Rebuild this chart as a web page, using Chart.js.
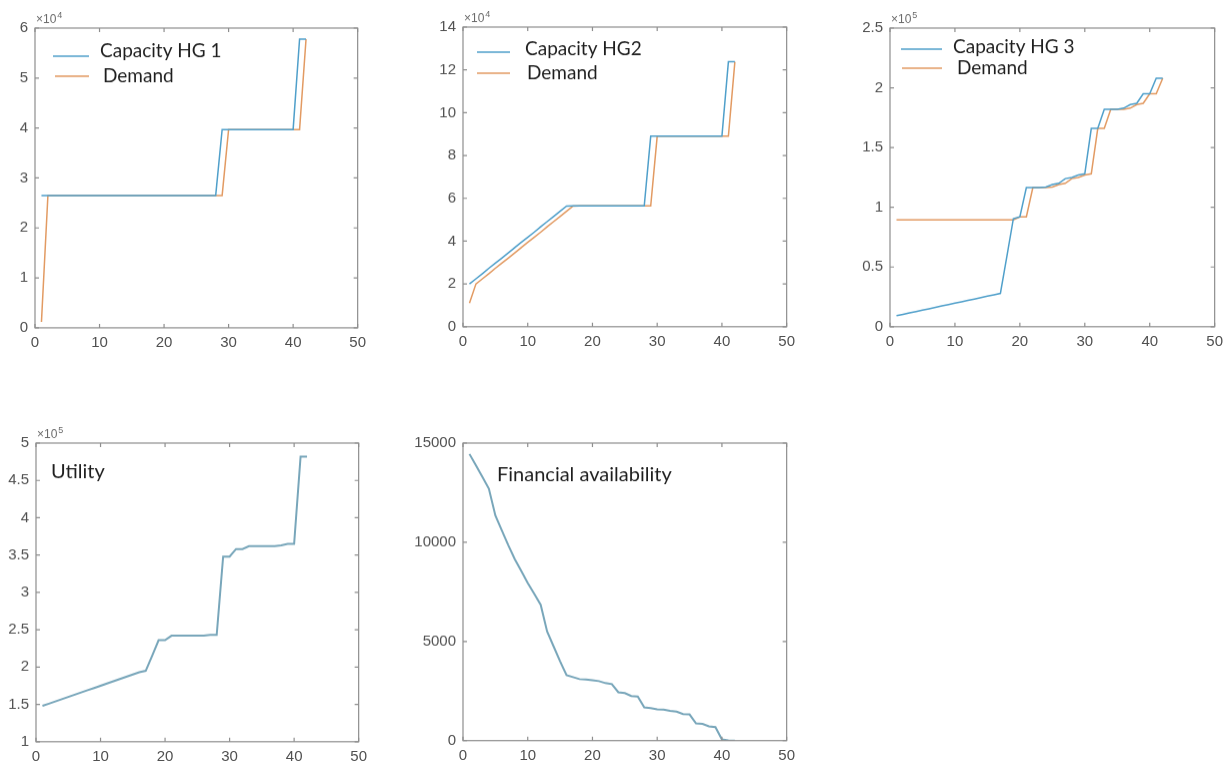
<!DOCTYPE html>
<html>
<head>
<meta charset="utf-8">
<title>HG capacity / demand</title>
<script src="https://cdn.jsdelivr.net/npm/chart.js@4.4.1/dist/chart.umd.min.js"></script>
<style>
    html, body { margin: 0; padding: 0; background: #fff; }
    body { width: 1227px; height: 767px; position: relative; overflow: hidden; }
    .panel { position: absolute; }
    .panel canvas { display: block; }
</style>
</head>
<body>
<div class="panel" id="p1"><canvas id="c1"></canvas></div>
<div class="panel" id="p2"><canvas id="c2"></canvas></div>
<div class="panel" id="p3"><canvas id="c3"></canvas></div>
<div class="panel" id="p4"><canvas id="c4"></canvas></div>
<div class="panel" id="p5"><canvas id="c5"></canvas></div>
<script>
// ===== Data =====
const steps = [1, 2, 3, 4, 5, 6, 7, 8, 9, 10, 11, 12, 13, 14, 15, 16, 17, 18, 19, 20, 21,
    22, 23, 24, 25, 26, 27, 28, 29, 30, 31, 32, 33, 34, 35, 36, 37, 38, 39, 40, 41, 42];

const capacityHG1 = [26500, 26500, 26500, 26500, 26500, 26500, 26500, 26500, 26500, 26500,
    26500, 26500, 26500, 26500, 26500, 26500, 26500, 26500, 26500, 26500,
    26500, 26500, 26500, 26500, 26500, 26500, 26500, 26500, 39700, 39700,
    39700, 39700, 39700, 39700, 39700, 39700, 39700, 39700, 39700, 39700, 57800, 57800];
const demandHG1 = [1200, 26500, 26500, 26500, 26500, 26500, 26500, 26500, 26500, 26500,
    26500, 26500, 26500, 26500, 26500, 26500, 26500, 26500, 26500, 26500,
    26500, 26500, 26500, 26500, 26500, 26500, 26500, 26500, 26500, 39700,
    39700, 39700, 39700, 39700, 39700, 39700, 39700, 39700, 39700, 39700, 39700, 57800];

const capacityHG2 = [20000, 22400, 24800, 27300, 29700, 32100, 34500, 37000, 39400, 41800,
    44200, 46700, 49100, 51500, 54000, 56400, 56500, 56500, 56500, 56500,
    56500, 56500, 56500, 56500, 56500, 56500, 56500, 56500, 89000, 89000,
    89000, 89000, 89000, 89000, 89000, 89000, 89000, 89000, 89000, 89000, 123800, 123800];
const demandHG2 = [11000, 20000, 22400, 24800, 27300, 29700, 32100, 34500, 37000, 39400,
    41800, 44200, 46700, 49100, 51500, 54000, 56400, 56500, 56500, 56500,
    56500, 56500, 56500, 56500, 56500, 56500, 56500, 56500, 56500, 89000,
    89000, 89000, 89000, 89000, 89000, 89000, 89000, 89000, 89000, 89000, 89000, 123800];

const capacityHG3 = [9200, 10400, 11500, 12700, 13900, 15000, 16200, 17400, 18500, 19700,
    20900, 22100, 23200, 24400, 25600, 26700, 27900, 59000, 90500, 92000,
    116500, 116500, 116500, 117000, 119000, 120000, 124000, 125000, 127000, 128000,
    166000, 166000, 182000, 182000, 182000, 183000, 186000, 187000, 195000, 195000, 208000, 208000];
const demandHG3 = [89500, 89500, 89500, 89500, 89500, 89500, 89500, 89500, 89500, 89500,
    89500, 89500, 89500, 89500, 89500, 89500, 89500, 89500, 89500, 92000,
    92000, 116500, 116500, 116500, 117000, 119000, 120000, 124000, 125000, 127000,
    128000, 166000, 166000, 182000, 182000, 182000, 183000, 186000, 187000, 195000, 195000, 208000];

const utility = [148000, 151000, 154000, 157000, 160000, 163000, 166000, 169000, 172000, 175000,
    178000, 181000, 184000, 187000, 190000, 193000, 195000, 215000, 236000, 236000,
    242000, 242000, 242000, 242000, 242000, 242000, 243000, 243000, 348000, 348000,
    358000, 358000, 362000, 362000, 362000, 362000, 362000, 363000, 365000, 365000, 482000, 482000];

const financialAvailability = [14450, 13870, 13290, 12700, 11350, 10600, 9850, 9150, 8550, 7950,
    7400, 6850, 5500, 4750, 4000, 3300, 3200, 3100, 3080, 3040,
    3000, 2900, 2850, 2440, 2400, 2250, 2220, 1680, 1640, 1580,
    1560, 1500, 1460, 1340, 1320, 870, 840, 720, 680, 60, 10, 0];

const xTickValues = [0, 10, 20, 30, 40, 50];

// ===== Styles =====
const BLUE = '#4f9fca';
const ORANGE = '#e29a62';
const STEEL = '#78a6ba';
const TICK_FONT = { family: '"Liberation Sans", Arial, sans-serif', size: 15 };
const TEXT_FONT = 'Lato, "Open Sans", sans-serif';

// box + inward ticks, MATLAB style
const matlabFrame = {
    id: 'matlabFrame',
    afterDraw(chart) {
        const { ctx, chartArea: a, scales } = chart;
        ctx.save();
        ctx.strokeStyle = '#8e8e8e';
        ctx.lineWidth = 1.2;
        ctx.strokeRect(a.left, a.top, a.right - a.left, a.bottom - a.top);
        ctx.beginPath();
        scales.x.ticks.forEach(t => {
            const px = scales.x.getPixelForValue(t.value);
            ctx.moveTo(px, a.bottom); ctx.lineTo(px, a.bottom - 4);
            ctx.moveTo(px, a.top); ctx.lineTo(px, a.top + 4);
        });
        scales.y.ticks.forEach(t => {
            const py = scales.y.getPixelForValue(t.value);
            ctx.moveTo(a.left, py); ctx.lineTo(a.left + 4, py);
            ctx.moveTo(a.right, py); ctx.lineTo(a.right - 4, py);
        });
        ctx.stroke();
        ctx.restore();
    }
};

// exponent label + in-plot legend / caption
function annotations(expo, legend, caption) {
    return {
        id: 'annotations',
        afterDraw(chart) {
            const { ctx, chartArea: a } = chart;
            ctx.save();
            if (expo) {
                ctx.fillStyle = '#6a6a6a';
                ctx.textBaseline = 'alphabetic';
                ctx.font = '12px "Liberation Sans", Arial, sans-serif';
                ctx.fillText('\u00d710', a.left + 1, a.top - 5);
                const w = ctx.measureText('\u00d710').width;
                ctx.font = '9px "Liberation Sans", Arial, sans-serif';
                ctx.fillText(expo, a.left + 2 + w, a.top - 10);
            }
            (legend || []).forEach(it => {
                ctx.strokeStyle = it.color;
                ctx.lineWidth = 1.5;
                ctx.beginPath();
                ctx.moveTo(a.left + it.x1, a.top + it.ly);
                ctx.lineTo(a.left + it.x2, a.top + it.ly);
                ctx.stroke();
                ctx.fillStyle = '#1e1e1e';
                ctx.font = '19px ' + TEXT_FONT;
                ctx.fillText(it.text, a.left + it.tx, a.top + it.ty);
            });
            if (caption) {
                ctx.fillStyle = '#1e1e1e';
                ctx.font = '20px ' + TEXT_FONT;
                ctx.fillText(caption.text, a.left + caption.tx, a.top + caption.ty);
            }
            ctx.restore();
        }
    };
}

function makePanel(n, box, yAxis, series, expo, legend, caption) {
    const yw = box.yw, pt = 14, pr = 12, xh = 30;
    const div = document.getElementById('p' + n);
    const cv = document.getElementById('c' + n);
    let w = yw + box.W + pr, h = pt + box.H + xh;
    div.style.left = (box.L - yw) + 'px';
    div.style.top = (box.T - pt) + 'px';
    cv.width = w; cv.height = h;
    cv.style.width = w + 'px'; cv.style.height = h + 'px';

    const chart = new Chart(cv, {
        type: 'line',
        data: {
            datasets: series.map(s => ({
                data: steps.map((x, i) => ({ x: x, y: s.values[i] })),
                borderColor: s.color,
                borderWidth: s.width,
                pointRadius: 0,
                tension: 0,
                fill: false
            }))
        },
        options: {
            responsive: false,
            animation: false,
            events: [],
            layout: { padding: { top: pt, right: pr, left: 0, bottom: 0 } },
            plugins: { legend: { display: false }, tooltip: { enabled: false } },
            scales: {
                x: {
                    type: 'linear', min: 0, max: 50,
                    afterBuildTicks: s => { s.ticks = xTickValues.map(v => ({ value: v })); },
                    grid: { display: false, drawTicks: false },
                    border: { display: false },
                    ticks: { font: TICK_FONT, color: '#505050', padding: 6, maxRotation: 0 },
                    afterFit: s => { s.height = xh; }
                },
                y: {
                    type: 'linear', min: yAxis.min, max: yAxis.max,
                    afterBuildTicks: s => { s.ticks = yAxis.ticks.map(v => ({ value: v })); },
                    grid: { display: false, drawTicks: false },
                    border: { display: false },
                    ticks: {
                        font: TICK_FONT, color: '#505050', padding: 7,
                        callback: v => String(+(v / yAxis.div).toFixed(2))
                    },
                    afterFit: s => { s.width = yw; }
                }
            }
        },
        plugins: [matlabFrame, annotations(expo, legend, caption)]
    });

    // nudge the canvas so the plot box lands where the figure has it
    for (let k = 0; k < 2; k++) {
        const a = chart.chartArea;
        const dw = box.W - (a.right - a.left);
        const dh = box.H - (a.bottom - a.top);
        div.style.left = (box.L - a.left) + 'px';
        div.style.top = (box.T - a.top) + 'px';
        if (Math.abs(dw) < 0.5 && Math.abs(dh) < 0.5) break;
        w = Math.round(w + dw); h = Math.round(h + dh);
        chart.resize(w, h);
    }
}

// tick label arrays
const yTicksHG1 = [0, 10000, 20000, 30000, 40000, 50000, 60000];
const yTicksHG2 = [0, 20000, 40000, 60000, 80000, 100000, 120000, 140000];
const yTicksHG3 = [0, 50000, 100000, 150000, 200000, 250000];
const yTicksUtility = [100000, 150000, 200000, 250000, 300000, 350000, 400000, 450000, 500000];
const yTicksFinancial = [0, 5000, 10000, 15000];

makePanel(1, { L: 35, T: 28, W: 323, H: 299, yw: 35 },
    { min: 0, max: 60000, ticks: yTicksHG1, div: 1e4 },
    [{ values: capacityHG1, color: BLUE, width: 1.5 }, { values: demandHG1, color: ORANGE, width: 1.5 }],
    '4',
    [{ text: 'Capacity HG 1', color: BLUE, x1: 18, x2: 54, ly: 28, tx: 65, ty: 29 },
     { text: 'Demand', color: ORANGE, x1: 20, x2: 54, ly: 48, tx: 68, ty: 54 }]);

makePanel(2, { L: 463, T: 27, W: 324, H: 299, yw: 45 },
    { min: 0, max: 140000, ticks: yTicksHG2, div: 1e4 },
    [{ values: capacityHG2, color: BLUE, width: 1.5 }, { values: demandHG2, color: ORANGE, width: 1.5 }],
    '4',
    [{ text: 'Capacity HG2', color: BLUE, x1: 14, x2: 47, ly: 25, tx: 62, ty: 28 },
     { text: 'Demand', color: ORANGE, x1: 14, x2: 47, ly: 46, tx: 64, ty: 52 }]);

makePanel(3, { L: 890, T: 28, W: 325, H: 298, yw: 45 },
    { min: 0, max: 250000, ticks: yTicksHG3, div: 1e5 },
    [{ values: capacityHG3, color: BLUE, width: 1.5 }, { values: demandHG3, color: ORANGE, width: 1.5 }],
    '5',
    [{ text: 'Capacity HG 3', color: BLUE, x1: 11, x2: 52, ly: 21, tx: 63, ty: 25 },
     { text: 'Demand', color: ORANGE, x1: 12, x2: 52, ly: 40, tx: 67, ty: 46 }]);

makePanel(4, { L: 36, T: 443, W: 323, H: 298, yw: 36 },
    { min: 100000, max: 500000, ticks: yTicksUtility, div: 1e5 },
    [{ values: utility, color: STEEL, width: 2 }],
    '5', null, { text: 'Utility', tx: 15, ty: 35 });

makePanel(5, { L: 463, T: 443, W: 324, H: 297, yw: 56 },
    { min: 0, max: 15000, ticks: yTicksFinancial, div: 1 },
    [{ values: financialAvailability, color: STEEL, width: 2 }],
    null, null, { text: 'Financial availability', tx: 34, ty: 38 });
</script>
</body>
</html>
